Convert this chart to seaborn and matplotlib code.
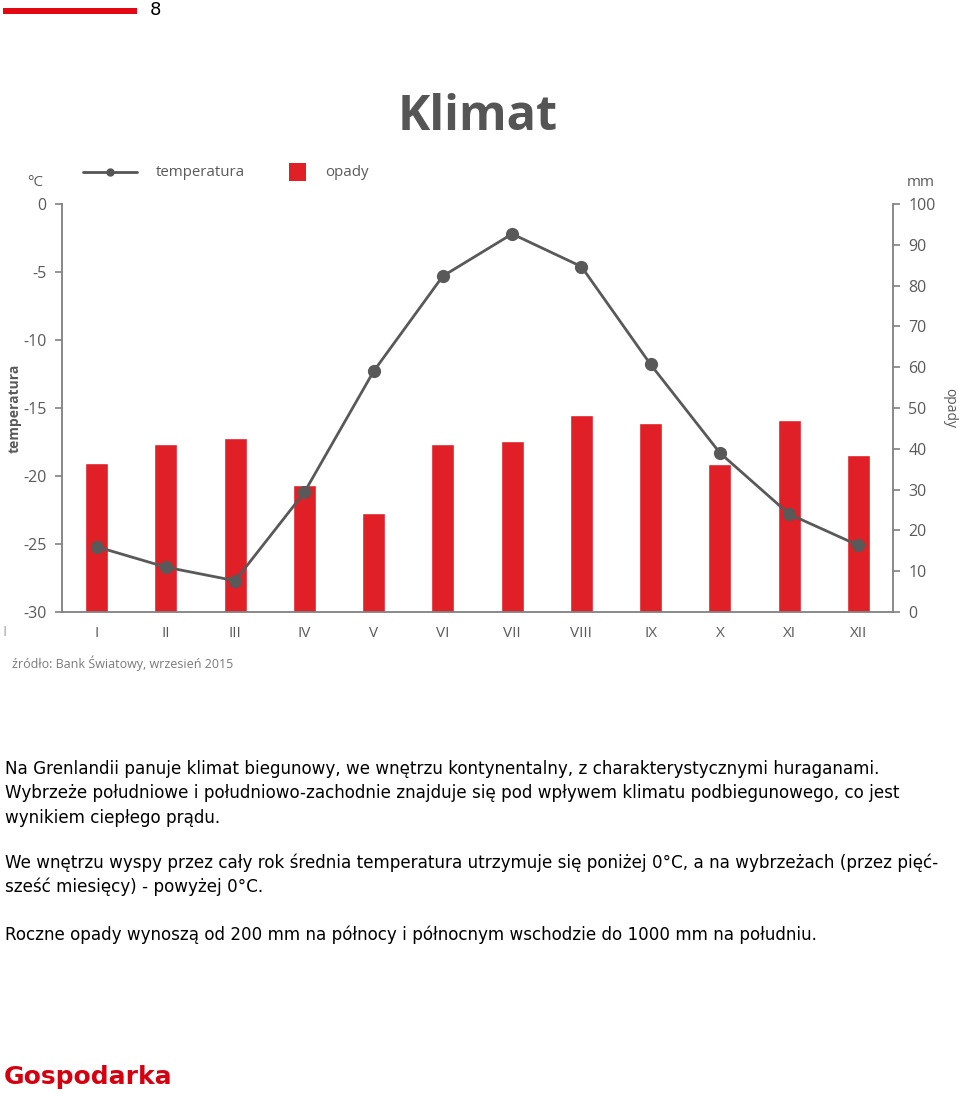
import numpy as np
import pandas as pd
import matplotlib
matplotlib.use("Agg")
import matplotlib.pyplot as plt
import seaborn as sns
from matplotlib.lines import Line2D
from matplotlib.patches import Rectangle

# data
months = ["I", "II", "III", "IV", "V", "VI", "VII", "VIII", "IX", "X", "XI", "XII"]
temperatura = [-25.2, -26.7, -27.7, -21.2, -12.3, -5.3, -2.2, -4.6, -11.8, -18.3, -22.8, -25.1]
opady = [36.5, 41.2, 42.6, 31.1, 24.3, 41.2, 41.9, 48.3, 46.3, 36.3, 47.1, 38.5]
temp_ticks = [0, -5, -10, -15, -20, -25, -30]
opady_ticks = [0, 10, 20, 30, 40, 50, 60, 70, 80, 90, 100]

body_lines = [
    "Na Grenlandii panuje klimat biegunowy, we wnętrzu kontynentalny, z charakterystycznymi huraganami.",
    "Wybrzeże południowe i południowo-zachodnie znajduje się pod wpływem klimatu podbiegunowego, co jest",
    "wynikiem ciepłego prądu.",
    "We wnętrzu wyspy przez cały rok średnia temperatura utrzymuje się poniżej 0°C, a na wybrzeżach (przez pięć-",
    "sześć miesięcy) - powyżej 0°C.",
    "Roczne opady wynoszą od 200 mm na północy i północnym wschodzie do 1000 mm na południu.",
]
body_y = [769, 793, 818, 863, 887, 935]

df = pd.DataFrame({"miesiac": months, "temperatura": temperatura, "opady": opady})

sns.set_style("white")
plt.rcParams["font.family"] = ["DejaVu Sans"]
plt.rcParams["axes.unicode_minus"] = False

W, H = 960, 1097
fig = plt.figure(figsize=(W / 100, H / 100), dpi=100)

RED = "#e01f26"
GREY = "#5a5a5a"
AXC = "#808080"
chart_font = "Open Sans"


def fx(px):
    return px / W


def fy(py):
    return 1 - py / H


# axes box in pixels: left 62, right 893, top 204, bottom 612
ax = fig.add_axes([fx(62), fy(612), fx(893 - 62), (612 - 204) / H])
ax2 = ax.twinx()

# bars -> precipitation (right scale)
sns.barplot(data=df, x="miesiac", y="opady", order=months, color=RED, saturation=1,
            width=0.33, ax=ax)
ax.set_ylim(0, 100)
ax.set_xlim(-0.5, 11.5)
ax.set_ylabel("")
ax.set_xlabel("")

# line -> temperature (left scale)
sns.pointplot(data=df, x="miesiac", y="temperatura", order=months, color="#595959",
              markers="o", markersize=8, linewidth=2, ax=ax2)
ax2.set_ylim(-30, 0)
ax2.set_xlim(-0.5, 11.5)
ax2.set_ylabel("")
ax2.set_xlabel("")

# put scales on their sides (after twinx, which resets them)
ax.yaxis.tick_right()
ax.set_yticks(opady_ticks)
ax2.yaxis.tick_left()
ax2.set_yticks(temp_ticks)

for a in (ax, ax2):
    for s in a.spines.values():
        s.set_visible(False)
    a.grid(False)

for a, side in ((ax2, "left"), (ax, "right"), (ax, "bottom")):
    a.spines[side].set_visible(True)
    a.spines[side].set_color(AXC)
    a.spines[side].set_linewidth(1.3)

tick_kw = dict(colors=AXC, labelcolor=GREY, labelsize=11.5, length=5, width=1.2)
ax2.tick_params(axis="y", direction="out", pad=6, **tick_kw)
ax.tick_params(axis="y", direction="out", pad=6, **tick_kw)
for lab in ax.get_yticklabels() + ax2.get_yticklabels():
    lab.set_fontfamily(chart_font)

# month labels centred, tick marks at month boundaries
ax.set_xticks(range(len(months)))
ax.set_xticklabels(months)
ax.tick_params(axis="x", which="major", length=0, pad=10, labelcolor=GREY, labelsize=11)
ax.set_xticks(np.arange(-0.5, 12, 1), minor=True)
ax.tick_params(axis="x", which="minor", length=6, width=1.2, colors=AXC, direction="out")
for lab in ax.get_xticklabels():
    lab.set_fontfamily(chart_font)
ax2.tick_params(axis="x", which="both", length=0, labelbottom=False)

# axis titles and units
fig.text(fx(15), fy(408), "temperatura", rotation=90, ha="center", va="center",
         fontsize=10, fontweight="bold", color=GREY, family=chart_font)
fig.text(fx(950), fy(408), "opady", rotation=-90, ha="center", va="center",
         fontsize=10, color=GREY, family=chart_font)
fig.text(fx(35), fy(182), "°C", ha="center", va="center", fontsize=11, color=GREY,
         family=chart_font)
fig.text(fx(921), fy(182), "mm", ha="center", va="center", fontsize=11, color=GREY,
         family=chart_font)

# title
fig.text(fx(478), fy(118), "Klimat", ha="center", va="center", fontsize=35,
         fontweight="bold", color="#555555", family=chart_font)

# legend
fig.add_artist(Line2D([fx(83), fx(137)], [fy(172), fy(172)], color="#555555", lw=2))
fig.add_artist(Line2D([fx(110)], [fy(172)], marker="o", markersize=5, color="#555555"))
fig.text(fx(156), fy(172), "temperatura", ha="left", va="center", fontsize=10.8,
         color=GREY, family=chart_font)
fig.add_artist(Rectangle((fx(289), fy(181)), fx(17), 18 / H, color=RED, lw=0))
fig.text(fx(325), fy(172), "opady", ha="left", va="center", fontsize=10.8,
         color=GREY, family=chart_font)

# source note and stray mark
fig.text(fx(12), fy(663), "źródło: Bank Światowy, wrzesień 2015", ha="left", va="center",
         fontsize=9, color="#7a7a7a", family=chart_font)
fig.text(fx(5), fy(632), "I", ha="center", va="center", fontsize=11, color="#aaaaaa",
         family=chart_font)

# page header
fig.add_artist(Rectangle((fx(3), fy(14)), fx(134), 6 / H, color="#e30613", lw=0))
fig.text(fx(150), fy(10), "8", ha="left", va="center", fontsize=13, color="black")

# body text
for line, y in zip(body_lines, body_y):
    fig.text(fx(5), fy(y), line, ha="left", va="center", fontsize=12.1, color="black")

fig.text(fx(4), fy(1077), "Gospodarka", ha="left", va="center", fontsize=18,
         fontweight="bold", color="#d7000f")

fig.savefig("out.png", dpi=100)
